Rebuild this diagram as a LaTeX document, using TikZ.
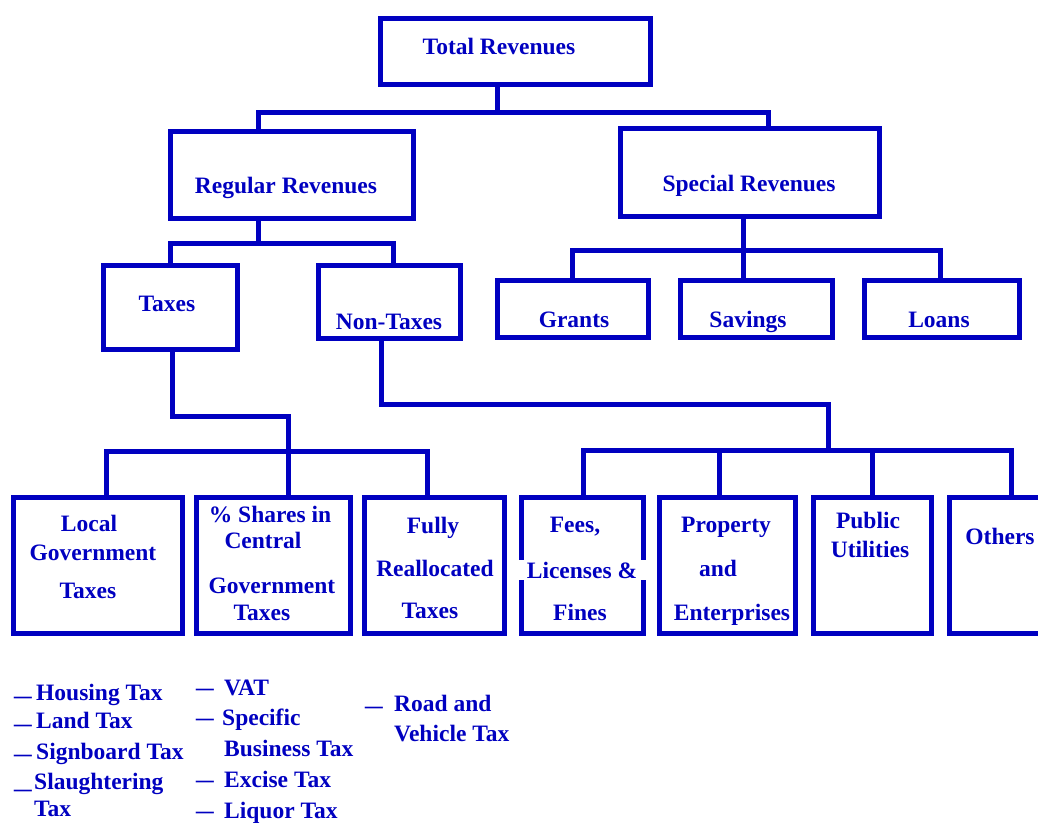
\documentclass[tikz,border=0pt]{standalone}
\usepackage{fontspec}
\usepackage{graphicx}
\setmainfont{Liberation Serif}
\definecolor{ink}{RGB}{0,0,192}
% widened dash used in the tax lists
\newcommand\dsh[1][0pt]{\raisebox{#1}{\scalebox{1.5}[1]{–}}}
\begin{document}
\begin{tikzpicture}[x=1pt,y=-1pt,
  box/.style={draw=ink, line width=5pt, inner sep=0pt, minimum width=#1},
  wire/.style={draw=ink, line width=5pt, line join=miter},
  lbl/.style={text=ink, inner sep=0pt, text height=18pt, text depth=2pt,
    font=\fontsize{23.5}{26}\selectfont\bfseries},
  item/.style={lbl, anchor=west}]
\useasboundingbox (0,0) rectangle (1038,822);
\clip (0,0) rectangle (1038,822);

% ---- boxes ----
\node[box=270, minimum height=66] (tot) at (515,51) {};
\node[box=243, minimum height=87] (reg) at (291.5,174.5) {};
\node[box=259, minimum height=88] (spe) at (749.5,172) {};
\node[box=134, minimum height=84] (tax) at (170,307) {};
\node[box=142, minimum height=73] (non) at (389,301.5) {};
\node[box=151, minimum height=57] (gra) at (572.5,308.5) {};
\node[box=152, minimum height=57] (sav) at (756,308.5) {};
\node[box=155, minimum height=57] (loa) at (941.5,308.5) {};
\node[box=169, minimum height=136] (loc) at (97.5,565) {};
\node[box=154, minimum height=136] (sha) at (273,565) {};
\node[box=140, minimum height=136] (ful) at (434,565) {};
\node[box=122, minimum height=136] (fee) at (582,565) {};
\node[box=136, minimum height=136] (pro) at (727,565) {};
\node[box=118, minimum height=136] (uti) at (872,565) {};
\node[box=100, minimum height=136] (oth) at (999,565) {};

% ---- box texts ----
\node[lbl] (tot-t) at (499,46) {Total Revenues};
\node[lbl] (reg-t) at (286,185) {Regular Revenues};
\node[lbl] (spe-t) at (749,183) {Special Revenues};
\node[lbl] (tax-t) at (167,303) {Taxes};
\node[lbl] (non-t) at (389,321) {Non-Taxes};
\node[lbl] (gra-t) at (574,319) {Grants};
\node[lbl] (sav-t) at (748,319) {Savings};
\node[lbl] (loa-t) at (939,319) {Loans};

\node[lbl] (loc-1) at (89,523) {Local};
\node[lbl] (loc-2) at (93,552) {Government};
\node[lbl] (loc-3) at (88,590) {Taxes};

\node[lbl] (sha-1) at (270,514) {\% Shares in};
\node[lbl] (sha-2) at (263,540) {Central};
\node[lbl] (sha-3) at (272,585) {Government};
\node[lbl] (sha-4) at (262,612) {Taxes};

\node[lbl] (ful-1) at (433,525) {Fully};
\node[lbl] (ful-2) at (435,568) {Reallocated};
\node[lbl] (ful-3) at (430,610) {Taxes};

\node[lbl] (fee-1) at (575,524) {Fees,};
\node[lbl, fill=white, inner xsep=9pt] (fee-2) at (582,570) {Licenses \&};
\node[lbl] (fee-3) at (580,612) {Fines};

\node[lbl] (pro-1) at (726,524) {Property};
\node[lbl] (pro-2) at (718,568) {and};
\node[lbl] (pro-3) at (732,612) {Enterprises};

\node[lbl] (uti-1) at (868,520) {Public};
\node[lbl] (uti-2) at (870,549) {Utilities};

\node[lbl] (oth-t) at (1000,536) {Others};

% ---- junction points ----
\coordinate (t1) at (497,112);
\coordinate (t2) at (258,112);
\coordinate (t3) at (768,112);
\coordinate (r1) at (258,243);
\coordinate (r2) at (170,243);
\coordinate (r3) at (393,243);
\coordinate (s1) at (743,250);
\coordinate (s2) at (572,250);
\coordinate (s3) at (940,250);
\coordinate (a1) at (172,416);
\coordinate (a2) at (288,416);
\coordinate (a3) at (106,451);
\coordinate (a4) at (427,451);
\coordinate (n1) at (381,404);
\coordinate (n2) at (828,404);
\coordinate (n3) at (828,450);
\coordinate (b1) at (583,450);
\coordinate (b2) at (719,450);
\coordinate (b3) at (872,450);
\coordinate (b4) at (1011,450);

% ---- connectors ----
\draw[wire] (tot.south -| t1) -- (t1);
\draw[wire] (reg.north -| t2) -- (t2) -- (t3) -- (spe.north -| t3);
\draw[wire] (reg.south -| r1) -- (r1);
\draw[wire] (tax.north -| r2) -- (r2) -- (r3) -- (non.north -| r3);
\draw[wire] (spe.south -| s1) -- (sav.north -| s1);
\draw[wire] (gra.north -| s2) -- (s2) -- (s3) -- (loa.north -| s3);
\draw[wire] (tax.south -| a1) -- (a1) -- (a2) -- (sha.north -| a2);
\draw[wire] (loc.north -| a3) -- (a3) -- (a4) -- (ful.north -| a4);
\draw[wire] (non.south -| n1) -- (n1) -- (n2) -- (n3);
\draw[wire] (fee.north -| b1) -- (b1) -- (b4) -- (oth.north -| b4);
\draw[wire] (pro.north -| b2) -- (b2);
\draw[wire] (uti.north -| b3) -- (b3);

% ---- tax lists ----
\node[item] (l1) at (14,692) {\makebox[22pt][l]{\dsh[-3pt]}Housing Tax};
\node[item] (l2) at (14,720) {\makebox[22pt][l]{\dsh[-3pt]}Land Tax};
\node[item] (l3) at (14,751) {\makebox[22pt][l]{\dsh[-2pt]}Signboard Tax};
\node[item] (l4) at (14,781) {\makebox[20pt][l]{\dsh[-7pt]}Slaughtering};
\node[item] (l5) at (34,808) {Tax};

\node[item] (m1) at (196,687) {\makebox[28pt][l]{\dsh}VAT};
\node[item] (m2) at (196,717) {\makebox[26pt][l]{\dsh}Specific};
\node[item] (m3) at (224,748) {Business Tax};
\node[item] (m4) at (196,779) {\makebox[28pt][l]{\dsh}Excise Tax};
\node[item] (m5) at (196,810) {\makebox[28pt][l]{\dsh}Liquor Tax};

\node[item] (q1) at (365,703) {\makebox[29pt][l]{\dsh[-2pt]}Road and};
\node[item] (q2) at (394,733) {Vehicle Tax};
\end{tikzpicture}
\end{document}
